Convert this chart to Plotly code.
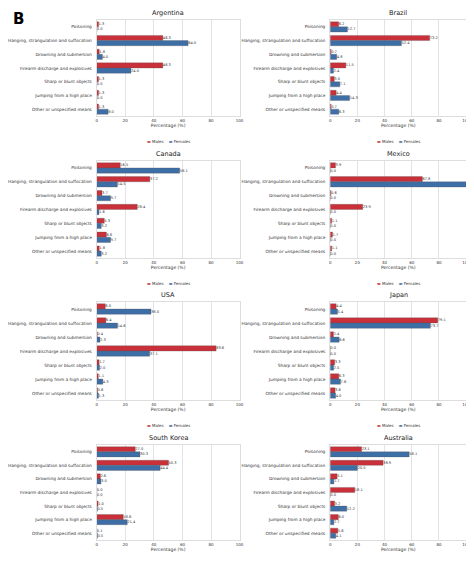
import plotly.graph_objects as go

methods = [
    'Poisoning',
    'Hanging, strangulation and suffocation',
    'Drowning and submersion',
    'Firearm discharge and explosives',
    'Sharp or blunt objects',
    'Jumping from a high place',
    'Other or unspecified means',
]
countries = ['Argentina', 'Brazil', 'Canada', 'Mexico', 'USA', 'Japan', 'South Korea', 'Australia']

males = {
    'Argentina':   [1.3, 46.3, 1.8, 46.3, 1.3, 1.3, 1.3],
    'Brazil':      [6.2, 73.2, 0.7, 11.5, 3.0, 4.4, 0.7],
    'Canada':      [16.5, 37.2, 3.7, 28.4, 5.3, 6.8, 1.8],
    'Mexico':      [3.9, 67.8, 0.6, 23.9, 1.1, 1.7, 1.1],
    'USA':         [6.0, 6.4, 0.4, 83.6, 1.7, 1.1, 0.6],
    'Japan':       [4.4, 79.1, 2.4, 0.0, 3.3, 6.3, 3.6],
    'South Korea': [27.0, 50.3, 2.6, 0.0, 1.0, 18.6, 0.1],
    'Australia':   [23.1, 38.9, 5.1, 18.1, 3.2, 6.0, 5.6],
}
females = {
    'Argentina':   [0.0, 64.0, 4.0, 24.0, 0.0, 0.0, 8.0],
    'Brazil':      [12.7, 52.4, 4.8, 2.4, 7.1, 14.3, 6.3],
    'Canada':      [58.1, 14.5, 9.7, 1.6, 3.2, 9.7, 3.2],
    'Mexico':      [0.0, 100.0, 0.0, 0.0, 0.0, 0.0, 0.0],
    'USA':         [38.0, 14.6, 2.3, 37.1, 2.0, 4.3, 1.3],
    'Japan':       [5.4, 73.7, 6.6, 0.0, 2.5, 7.6, 4.0],
    'South Korea': [30.3, 44.4, 3.0, 0.0, 0.5, 21.4, 0.5],
    'Australia':   [58.1, 20.0, 2.7, 0.0, 12.2, 2.7, 4.1],
}

RED = '#c9303a'
BLUE = '#3e6ea6'
W, H = 474, 564

x_domains = [(87 / W, 232 / W), (324 / W, 462 / W)]
row_px = [(12, 108), (153, 250), (294, 392), (437, 532)]

fig = go.Figure()
layout = {}
annotations = []

for i, country in enumerate(countries):
    row, col = divmod(i, 2)
    n = i + 1
    xa = 'x' if n == 1 else f'x{n}'
    ya = 'y' if n == 1 else f'y{n}'
    top, bot = row_px[row]
    x0, x1 = x_domains[col]

    for name, vals, colour in [('Males', males[country], RED), ('Females', females[country], BLUE)]:
        fig.add_trace(go.Bar(
            name=name, x=vals, y=methods, orientation='h',
            marker={'color': colour, 'line': {'color': '#555555', 'width': 0.3}},
            text=[f'{v:.1f}' for v in vals], textposition='outside',
            textfont={'size': 3.6, 'color': '#333333'}, cliponaxis=False,
            xaxis=xa, yaxis=ya, showlegend=False,
        ))

    layout[xa.replace('x', 'xaxis')] = {
        'domain': [x0, x1], 'anchor': ya, 'range': [0, 100],
        'tickvals': [0, 20, 40, 60, 80, 100], 'tickfont': {'size': 4},
        'showgrid': True, 'gridcolor': '#e3e3e3', 'gridwidth': 0.5,
        'showline': True, 'linecolor': '#dddddd', 'mirror': True, 'zeroline': False,
        'title': {'text': 'Percentage (%)', 'font': {'size': 4.5}, 'standoff': 2},
        'ticklen': 0,
    }
    layout[ya.replace('y', 'yaxis')] = {
        'domain': [1 - bot / H, 1 - top / H], 'anchor': xa, 'autorange': 'reversed',
        'tickfont': {'size': 4.3}, 'showline': True, 'linecolor': '#dddddd', 'mirror': True,
        'ticklen': 0, 'ticklabelstandoff': 3,
    }
    # small legend drawn as text under each panel
    annotations.append({
        'text': f'<span style="color:{RED}">▬</span> Males    '
                f'<span style="color:{BLUE}">▬</span> Females',
        'x': (x0 + x1) / 2, 'y': 1 - (bot + 25) / H,
        'xref': 'paper', 'yref': 'paper', 'xanchor': 'center', 'yanchor': 'middle',
        'showarrow': False, 'font': {'size': 4, 'color': '#333333'},
    })
    annotations.append({
        'text': country, 'x': (x0 + x1) / 2, 'y': 1 - (top - 1) / H,
        'xref': 'paper', 'yref': 'paper', 'xanchor': 'center', 'yanchor': 'bottom',
        'showarrow': False, 'font': {'size': 6.5, 'color': '#222222'},
    })

annotations.append({
    'text': '<b>B</b>', 'x': 0.0, 'y': 1.0, 'xref': 'paper', 'yref': 'paper',
    'xanchor': 'left', 'yanchor': 'top', 'showarrow': False,
    'font': {'size': 15, 'color': 'black'},
})

fig.update_layout(
    **layout,
    annotations=annotations,
    barmode='group', bargap=0.25, bargroupgap=0.0,
    width=W, height=H, margin={'l': 0, 'r': 0, 't': 0, 'b': 0},
    plot_bgcolor='white', paper_bgcolor='white',
    font={'family': 'DejaVu Sans', 'color': '#333333'},
)

fig.write_html('out.html')
